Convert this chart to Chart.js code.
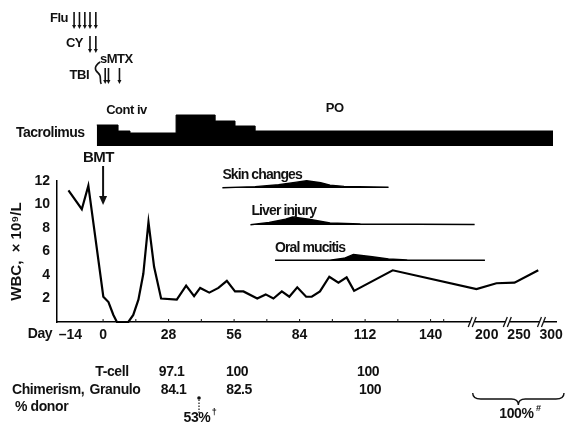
<!DOCTYPE html>
<html>
<head>
<meta charset="utf-8">
<title>WBC and chimerism after BMT</title>
<script src="https://cdn.jsdelivr.net/npm/chart.js@4.4.1/dist/chart.umd.min.js"></script>
<style>
  html, body { margin: 0; padding: 0; background: #fff; }
  #wrap { position: relative; width: 569px; height: 424px; }
</style>
</head>
<body>
<div id="wrap"><canvas id="wbcChart"></canvas></div>
<script>
// WBC, x10^9/L, by day from BMT
const wbcDays = [-14.8, -9.1, -6.3, 0.1, 2.3, 4.4, 5.9, 10.8, 12.9, 15.1, 17.2, 19.4, 21.8, 24.8, 31.5, 35.5, 38.9, 41.5, 45.4, 49.3, 52.9, 56.4, 60, 65.9, 69.5, 72.8, 76.4, 79.6, 83, 86.8, 89.2, 92.7, 96.7, 100.6, 104.1, 107.3, 123.8, 189, 215, 243, 280];
const wbc = [11.2, 9.6, 11.6, 2.15, 1.7, 0.6, 0, 0, 0.6, 1.9, 4.1, 8.5, 4.7, 2.0, 1.9, 3.1, 2.2, 2.9, 2.5, 2.9, 3.5, 2.6, 2.6, 2.0, 2.35, 2.0, 2.6, 2.15, 2.95, 2.15, 2.15, 2.6, 3.85, 3.35, 3.8, 2.65, 4.4, 2.8, 3.3, 3.35, 4.4];

// tacrolimus dose steps (each level holds until the next day listed)
const tacroDays = [-2.7, 6.4, 11.5, 31.2, 47.9, 56.4, 65, 303];
const tacroDose = [21, 15, 13, 31, 25, 20, 15, 15];

// complications, grade profile over time
const skinDays = [51, 65, 75, 82, 87, 93, 97, 103, 122];
const skinGrade = [0.03, 0.12, 0.28, 0.48, 0.62, 0.45, 0.25, 0.14, 0.07];
const liverDays = [63, 71, 78, 81, 88, 97, 110, 187];
const liverGrade = [0.03, 0.22, 0.5, 0.68, 0.5, 0.18, 0.09, 0.05];
const oralDays = [73.5, 97, 103, 107, 115, 122, 130, 198];
const oralGrade = [0.05, 0.07, 0.22, 0.55, 0.35, 0.16, 0.08, 0.05];

// conditioning / GVHD prophylaxis
const fluDays = [-12.4, -10.1, -7.8, -5.6, -3.1];
const cyDays = [-5.6, -3.1];
const mtxDays = [0.9, 2.3, 7];
const tbiDay = -2.1;

// chimerism, % donor
const chimDays = [28, 56, 112];
const tCell = ["97.1", "100", "100"];
const granulo = ["84.1", "82.5", "100"];

const wbcTicks = [2, 4, 6, 8, 10, 12];
const tickDays = [-14, 0, 28, 56, 84, 112, 140, 200, 250, 300];
const tickLabels = ["–14", "0", "28", "56", "84", "112", "140", "200", "250", "300"];

// broken time axis: linear to day 140, compressed after
const breakDays = [140, 200, 250, 300];
const breakPos = [140, 164, 177.8, 191.5];
const cutPos = [158, 173, 187.6];

function toPos(day) {
  if (day <= breakDays[0]) return day;
  for (let i = 1; i < breakDays.length; i++) {
    if (day <= breakDays[i] || i === breakDays.length - 1) {
      const t = (day - breakDays[i - 1]) / (breakDays[i] - breakDays[i - 1]);
      return breakPos[i - 1] + t * (breakPos[i] - breakPos[i - 1]);
    }
  }
}

const pts = (days, vals, base) => days.map((d, i) => ({ x: toPos(d), y: (base || 0) + vals[i] }));

const FONT = "'Liberation Sans', Arial, sans-serif";
Chart.defaults.font.family = FONT;
Chart.defaults.font.size = 14;
Chart.defaults.font.weight = "bold";
Chart.defaults.color = "#111";

// baselines of the complication bars on the WBC scale
const skinBase = 11.4, liverBase = 8.25, oralBase = 5.2;

const eventSet = (days, grade, base) => ({
  data: pts(days, grade, base),
  borderColor: "#000",
  backgroundColor: "#000",
  borderWidth: 1.4,
  pointRadius: 0,
  fill: { value: base },
  clip: false,
});

function arrow(ctx, x, y1, y2, head, w) {
  ctx.beginPath();
  ctx.moveTo(x, y1);
  ctx.lineTo(x, y2 - head);
  ctx.stroke();
  ctx.beginPath();
  ctx.moveTo(x - w, y2 - head);
  ctx.lineTo(x + w, y2 - head);
  ctx.lineTo(x, y2);
  ctx.closePath();
  ctx.fill();
}

const decor = {
  id: "decor",
  afterDraw(chart) {
    const { ctx, scales: { x, y } } = chart;
    const px = (d) => x.getPixelForValue(toPos(d));
    const bold = (s) => "bold " + s + "px " + FONT;
    ctx.save();
    ctx.fillStyle = "#111";
    ctx.strokeStyle = "#111";
    ctx.textBaseline = "middle";

    // conditioning arrows
    ctx.font = bold(13);
    ctx.letterSpacing = "-0.5px";
    ctx.textAlign = "right";
    ctx.fillText("Flu", 68, 18);
    ctx.fillText("CY", 83, 43);
    ctx.fillText("TBI", 89, 75);
    ctx.textAlign = "left";
    ctx.fillText("sMTX", 100, 59);
    ctx.lineWidth = 1.6;
    fluDays.forEach((d) => arrow(ctx, px(d), 12, 29, 4, 2));
    cyDays.forEach((d) => arrow(ctx, px(d), 36, 53, 4, 2));
    mtxDays.forEach((d) => arrow(ctx, px(d), 68, 84, 4, 2));
    // TBI squiggle
    const tx = px(tbiDay);
    ctx.beginPath();
    ctx.moveTo(tx + 2, 62);
    ctx.bezierCurveTo(tx - 4, 66, tx - 4, 70, tx, 73);
    ctx.bezierCurveTo(tx + 4, 76, tx + 1, 80, tx + 3, 84);
    ctx.stroke();

    // tacrolimus labels
    ctx.textAlign = "center";
    ctx.fillText("Cont iv", px(10), 110);
    ctx.fillText("PO", px(99), 108);
    ctx.textAlign = "left";
    ctx.font = bold(14);
    ctx.fillText("Tacrolimus", 16, 133);

    // BMT marker
    ctx.font = bold(15);
    ctx.textAlign = "center";
    ctx.fillText("BMT", px(-2), 158);
    ctx.lineWidth = 2;
    arrow(ctx, px(0), 166, 205, 9, 4);

    // complication labels
    ctx.font = bold(14);
    ctx.letterSpacing = "-0.9px";
    ctx.textAlign = "left";
    ctx.fillText("Skin changes", px(skinDays[0]), y.getPixelForValue(skinBase) - 13);
    ctx.fillText("Liver injury", px(liverDays[0]) + 1, y.getPixelForValue(liverBase) - 14);
    ctx.fillText("Oral mucitis", px(oralDays[0]), y.getPixelForValue(oralBase) - 13);
    ctx.letterSpacing = "-0.4px";

    // small ticks on the time axis
    ctx.lineWidth = 1;
    for (let d = 0; d <= 154; d += 14) {
      const xx = px(d);
      ctx.beginPath();
      ctx.moveTo(xx, x.top);
      ctx.lineTo(xx, x.top - 3);
      ctx.stroke();
    }

    // axis breaks
    cutPos.forEach((p) => {
      const xx = x.getPixelForValue(p);
      ctx.fillStyle = "#fff";
      ctx.fillRect(xx - 2, x.top - 3, 4, 6);
      ctx.fillStyle = "#111";
      ctx.lineWidth = 1.3;
      [-2.5, 1.5].forEach((o) => {
        ctx.beginPath();
        ctx.moveTo(xx + o - 2, x.top + 5);
        ctx.lineTo(xx + o + 2, x.top - 5);
        ctx.stroke();
      });
    });

    ctx.font = bold(14);
    ctx.textAlign = "center";
    ctx.fillText("Day", 40, 334);

    // chimerism table
    ctx.fillText("T-cell", 112, 372);
    ctx.fillText("Granulo", 115, 390);
    ctx.textAlign = "left";
    ctx.fillText("Chimerism,", 12, 390);
    ctx.fillText("% donor", 15, 407);
    ctx.textAlign = "center";
    chimDays.forEach((d, i) => {
      ctx.fillText(tCell[i], px(d) + 3, 372);
      ctx.fillText(granulo[i], px(d) + 5, 390);
    });

    // 53% marker
    const mx = px(41);
    ctx.lineWidth = 1.2;
    ctx.setLineDash([1.5, 1.5]);
    ctx.beginPath();
    ctx.moveTo(mx, 413);
    ctx.lineTo(mx, 400);
    ctx.stroke();
    ctx.setLineDash([]);
    ctx.beginPath();
    ctx.arc(mx, 398, 1.8, 0, Math.PI * 2);
    ctx.fill();
    ctx.fillText("53%", mx - 2, 418);
    ctx.font = bold(9);
    ctx.fillText("†", mx + 15, 413);

    // late chimerism brace
    const b1 = px(185), b2 = x.right + 8, bm = (b1 + b2) / 2;
    ctx.lineWidth = 1.4;
    ctx.beginPath();
    ctx.moveTo(b1, 393);
    ctx.quadraticCurveTo(b1, 399, b1 + 8, 399);
    ctx.lineTo(bm - 7, 399);
    ctx.quadraticCurveTo(bm, 399, bm, 405);
    ctx.quadraticCurveTo(bm, 399, bm + 7, 399);
    ctx.lineTo(b2 - 8, 399);
    ctx.quadraticCurveTo(b2, 399, b2, 393);
    ctx.stroke();
    ctx.font = bold(14);
    ctx.fillText("100%", bm - 2, 414);
    ctx.font = bold(9);
    ctx.fillText("#", bm + 20, 409);

    ctx.restore();
  },
};

new Chart(document.getElementById("wbcChart"), {
  type: "line",
  data: {
    datasets: [
      {
        data: pts(wbcDays, wbc),
        borderColor: "#000",
        borderWidth: 2.2,
        pointRadius: 0,
        tension: 0,
        clip: false,
      },
      {
        data: pts(tacroDays, tacroDose),
        yAxisID: "dose",
        stepped: "before",
        borderColor: "#000",
        backgroundColor: "#000",
        borderWidth: 1,
        pointRadius: 0,
        fill: { value: 0 },
        clip: false,
      },
      eventSet(skinDays, skinGrade, skinBase),
      eventSet(liverDays, liverGrade, liverBase),
      eventSet(oralDays, oralGrade, oralBase),
    ],
  },
  options: {
    responsive: true,
    maintainAspectRatio: false,
    animation: false,
    devicePixelRatio: 1,
    layout: { padding: { top: 100, right: 13, left: 0, bottom: 0 } },
    plugins: { legend: { display: false }, tooltip: { enabled: false } },
    scales: {
      x: {
        type: "linear",
        min: -19.7,
        max: 193.6,
        grid: { display: false, drawTicks: false },
        border: { display: true, color: "#000", width: 1.5 },
        afterBuildTicks: (scale) => {
          scale.ticks = tickDays.map((d) => ({ value: toPos(d) }));
        },
        ticks: {
          autoSkip: false,
          maxRotation: 0,
          padding: 5,
          callback: (v, i) => tickLabels[i],
        },
        afterFit: (scale) => {
          scale.height = 102;
        },
      },
      // WBC panel, with the dose band stacked above it
      y: {
        stack: "left",
        stackWeight: 141,
        min: 0,
        max: 12,
        grid: { display: false, drawTicks: false },
        border: { display: true, color: "#000", width: 1.5 },
        afterBuildTicks: (scale) => {
          scale.ticks = wbcTicks.map((v) => ({ value: v }));
        },
        ticks: {
          autoSkip: false,
          padding: 7,
        },
        title: {
          display: true,
          text: "WBC,  × 10⁹/L",
          padding: { top: 8, bottom: 0 },
          font: { size: 15, weight: "bold" },
        },
        afterFit: (scale) => {
          scale.width = 57;
        },
      },
      dose: {
        stack: "left",
        stackWeight: 81,
        position: "left",
        min: -35,
        max: 46,
        grid: { display: false, drawTicks: false },
        border: { display: false },
        ticks: { display: false },
      },
    },
  },
  plugins: [decor],
});
</script>
</body>
</html>
